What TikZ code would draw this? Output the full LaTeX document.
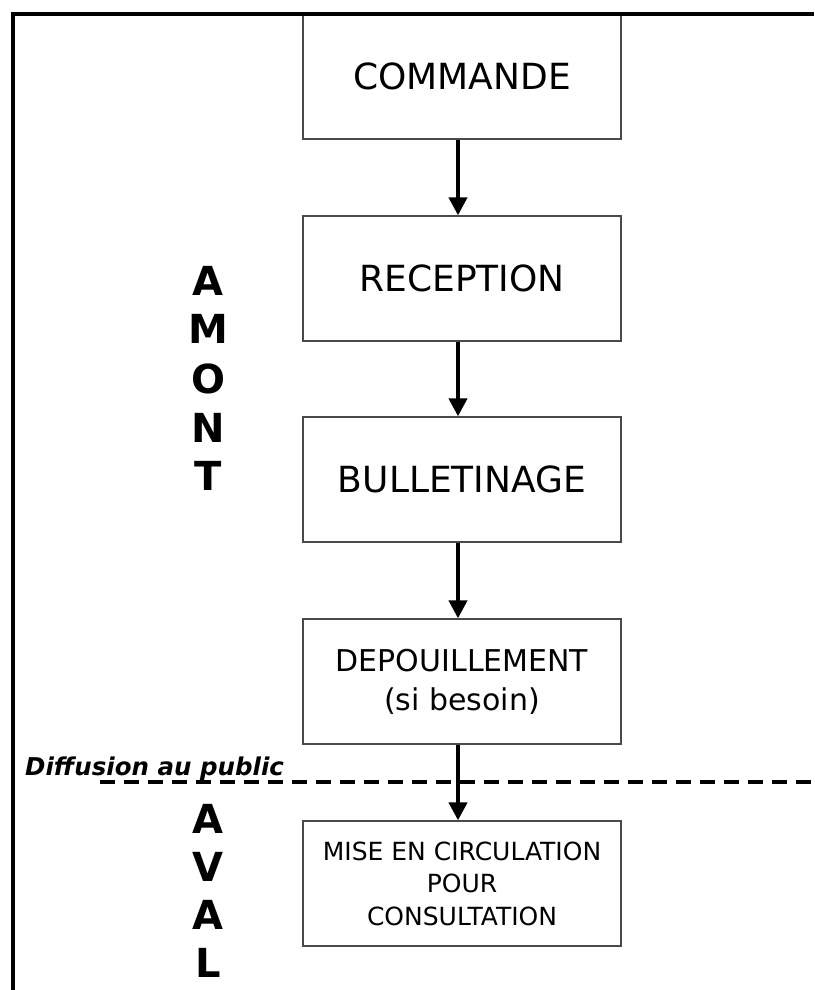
\documentclass[tikz,border=0pt]{standalone}
\usepackage{fontspec}
\setmainfont{DejaVu Sans}
\usetikzlibrary{arrows.meta}
\definecolor{boxgray}{HTML}{4A4A4A}
\begin{document}
\begin{tikzpicture}[x=1pt,y=-1pt,
  stage/.style={draw=boxgray, line width=1.3pt, fill=white,
    minimum width=318pt, minimum height=125pt, inner sep=0pt, align=center},
  bigtext/.style={font=\fontsize{36}{40}\selectfont},
  midtext/.style={font=\fontsize{30}{39}\selectfont},
  smalltext/.style={font=\fontsize{25}{32.5}\selectfont},
  flow/.style={line width=4pt, -{Triangle[width=18pt,length=18pt]}},
  zone/.style={font=\fontsize{40}{40}\selectfont\bfseries, anchor=base, inner sep=0pt},
  cutline/.style={line width=4pt, dash pattern=on 15pt off 9pt}]
\useasboundingbox (0,0) rectangle (814,990);

% process steps
\node[stage, bigtext] (cmd) at (462,76.5) {COMMANDE};
\node[stage, bigtext] (rec) at (462,278.5) {RECEPTION};
\node[stage, bigtext] (bul) at (462,479.5) {BULLETINAGE};
\node[stage, midtext] (dep) at (462,681.5) {DEPOUILLEMENT\\(si besoin)};
\node[stage, smalltext] (mise) at (462,883.5) {MISE EN CIRCULATION\\POUR\\CONSULTATION};

% public release boundary
\node[font=\fontsize{24.5}{25}\selectfont\bfseries\itshape, anchor=base west, inner sep=0pt]
  (diff) at (25,775) {Diffusion au public};
\coordinate (cutL) at (100,782);
\coordinate (cutR) at (814,782);
\draw[cutline] (cutL) -- (cutR);

% flow arrows
\draw[flow] ([xshift=-4pt]cmd.south) -- ([xshift=-4pt]rec.north);
\draw[flow] ([xshift=-4pt]rec.south) -- ([xshift=-4pt]bul.north);
\draw[flow] ([xshift=-4pt]bul.south) -- ([xshift=-4pt]dep.north);
\draw[flow] ([xshift=-4pt]dep.south) -- ([xshift=-4pt]mise.north);

% upstream / downstream labels
\node[zone] (am1) at (208,295) {A};
\node[zone] (am2) at (208,343) {M};
\node[zone] (am3) at (208,393) {O};
\node[zone] (am4) at (208,442) {N};
\node[zone] (am5) at (208,490) {T};
\node[zone] (av1) at (208,833) {A};
\node[zone] (av2) at (208,881) {V};
\node[zone] (av3) at (208,929) {A};
\node[zone] (av4) at (208,977) {L};

% outer frame (top and left edges)
\draw[line width=4pt] (13,990) |- (814,14.5);
\end{tikzpicture}
\end{document}
